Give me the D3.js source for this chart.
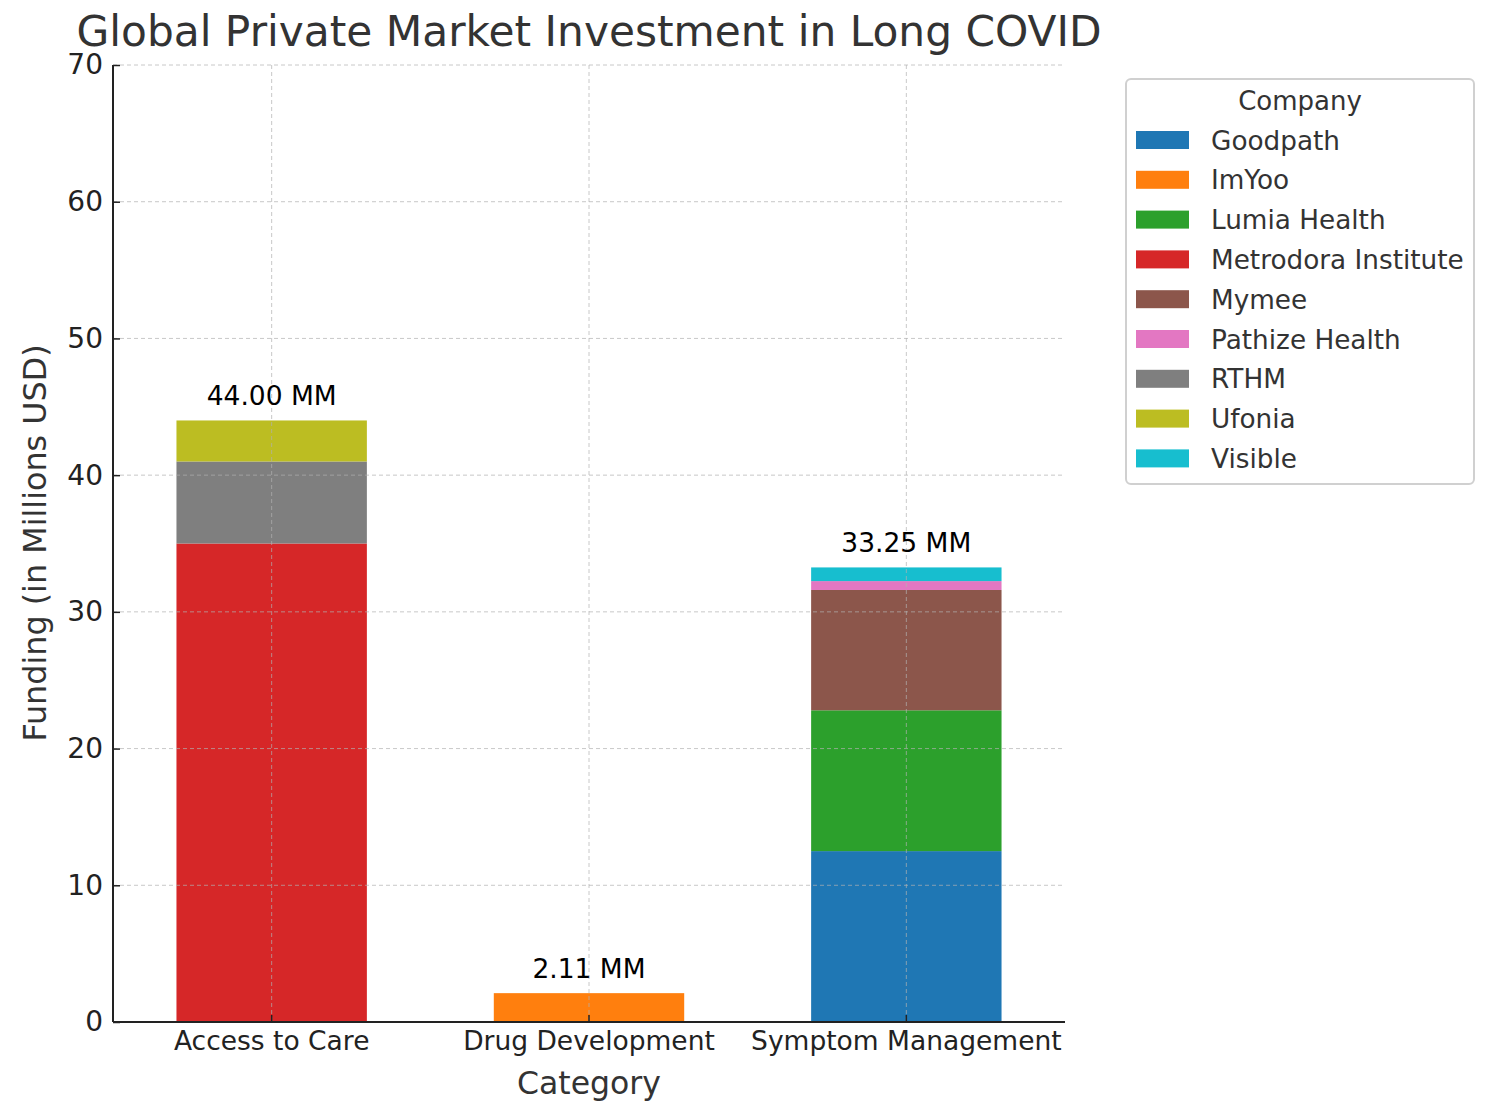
<!DOCTYPE html>
<html><head><meta charset="utf-8">
<script src="https://cdn.jsdelivr.net/npm/d3@7"></script>
<style>body{margin:0;background:#fff;} text{font-family:"DejaVu Sans",sans-serif;}</style>
</head><body>
<svg id="c" width="1486" height="1110"></svg>
<script>
const categories = ["Access to Care", "Drug Development", "Symptom Management"];
const companies = ["Goodpath","ImYoo","Lumia Health","Metrodora Institute","Mymee","Pathize Health","RTHM","Ufonia","Visible"];
const colors = ["#1f77b4","#ff7f0e","#2ca02c","#d62728","#8c564b","#e377c2","#7f7f7f","#bcbd22","#17becf"];
// funding per company in each category (millions USD), order = categories
const Goodpath = [0, 0, 12.5];
const ImYoo = [0, 2.11, 0];
const LumiaHealth = [0, 0, 10.3];
const MetrodoraInstitute = [35, 0, 0];
const Mymee = [0, 0, 8.8];
const PathizeHealth = [0, 0, 0.65];
const RTHM = [6, 0, 0];
const Ufonia = [3, 0, 0];
const Visible = [0, 0, 1.0];
const totals = [44.00, 2.11, 33.25];
const yTicks = [0,10,20,30,40,50,60,70];

const seriesVals = [Goodpath, ImYoo, LumiaHealth, MetrodoraInstitute, Mymee, PathizeHealth, RTHM, Ufonia, Visible];
const rows = categories.map((c,i)=>{const r={cat:c}; companies.forEach((k,j)=>r[k]=seriesVals[j][i]); return r;});
const stack = d3.stack().keys(companies)(rows);

const svg = d3.select("#c");
const L=113,R=1065,T=65,B=1022;
const x = d3.scaleBand().domain(categories).range([L,R]).paddingInner(0.4).paddingOuter(0.2);
const y = d3.scaleLinear().domain([0,70]).range([B,T]);
const color = d3.scaleOrdinal().domain(companies).range(colors);

// bars
svg.append("g").selectAll("g").data(stack).enter().append("g")
  .attr("fill",d=>color(d.key))
  .selectAll("rect").data(d=>d).enter().append("rect")
  .attr("x",d=>x(d.data.cat)).attr("width",x.bandwidth())
  .attr("y",d=>y(d[1])).attr("height",d=>y(d[0])-y(d[1]));

// grid
svg.append("g").selectAll("line").data(categories).enter().append("line")
  .attr("x1",d=>x(d)+x.bandwidth()/2).attr("x2",d=>x(d)+x.bandwidth()/2).attr("y1",T).attr("y2",B)
  .attr("stroke","#b0b0b0").attr("stroke-opacity",0.7).attr("stroke-dasharray","4,3").attr("stroke-width",1);
svg.append("g").selectAll("line").data(yTicks).enter().append("line")
  .attr("x1",L).attr("x2",R).attr("y1",d=>y(d)).attr("y2",d=>y(d))
  .attr("stroke","#b0b0b0").attr("stroke-opacity",0.7).attr("stroke-dasharray","4,3").attr("stroke-width",1);

// axes
const ya = svg.append("g").attr("transform",`translate(${L},0)`)
  .call(d3.axisLeft(y).tickValues(yTicks).tickSize(0).tickPadding(10));
ya.select(".domain").attr("stroke","#222").attr("stroke-width",2).attr("d",`M0,${T}V${B}`);
ya.selectAll(".tick line").attr("stroke","#222").attr("stroke-width",1.5).attr("x1",0).attr("x2",7);
ya.selectAll(".tick text").attr("font-size",28).attr("fill","#222").attr("font-family","DejaVu Sans");

const xa = svg.append("g").attr("transform",`translate(0,${B})`)
  .call(d3.axisBottom(x).tickSize(0).tickPadding(9));
xa.select(".domain").attr("stroke","#222").attr("stroke-width",2).attr("d",`M${L},0H${R}`);
xa.selectAll(".tick line").attr("stroke","#222").attr("stroke-width",1.5).attr("y1",-7).attr("y2",0);
xa.selectAll(".tick text").attr("font-size",26.5).attr("fill","#222").attr("font-family","DejaVu Sans");

// totals labels
svg.append("g").selectAll("text").data(categories).enter().append("text")
  .attr("x",d=>x(d)+x.bandwidth()/2).attr("y",(d,i)=>y(totals[i])-15)
  .attr("text-anchor","middle").attr("font-size",26.5).attr("fill","#000")
  .text((d,i)=>totals[i].toFixed(2)+" MM");

// title & labels
svg.append("text").attr("x",589).attr("y",46).attr("text-anchor","middle")
  .attr("font-size",42.3).attr("fill","#333").text("Global Private Market Investment in Long COVID");
svg.append("text").attr("x",589).attr("y",1094).attr("text-anchor","middle")
  .attr("font-size",31.5).attr("fill","#333").text("Category");
svg.append("text").attr("transform","translate(46,543) rotate(-90)").attr("text-anchor","middle")
  .attr("font-size",31.8).attr("fill","#333").text("Funding (in Millions USD)");

// legend
const lg = svg.append("g");
lg.append("rect").attr("x",1126).attr("y",79).attr("width",348).attr("height",405).attr("rx",5)
  .attr("fill","#fff").attr("stroke","#d0d0d0").attr("stroke-width",2);
lg.append("text").attr("x",1300).attr("y",110).attr("text-anchor","middle").attr("font-size",26).attr("fill","#333").text("Company");
const li = lg.selectAll("g.it").data(companies).enter().append("g").attr("class","it")
  .attr("transform",(d,i)=>`translate(0,${140+i*39.8})`);
li.append("rect").attr("x",1136).attr("y",-9).attr("width",53).attr("height",18).attr("fill",d=>color(d));
li.append("text").attr("x",1211).attr("y",9.5).attr("font-size",26.3).attr("fill","#333").text(d=>d);
</script>
</body></html>
